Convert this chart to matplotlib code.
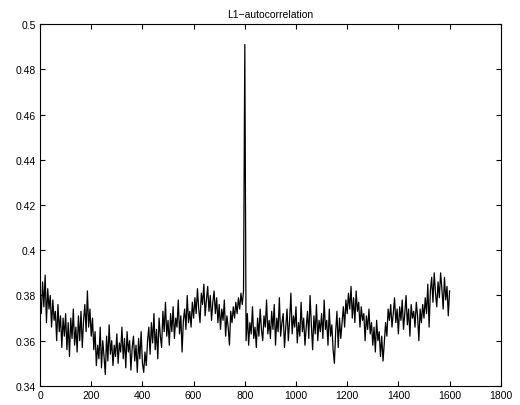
import numpy as np
import matplotlib
matplotlib.use("Agg")
from matplotlib import pyplot as plt

seg_000 = [0.379, 0.372, 0.386, 0.375, 0.389, 0.368, 0.383, 0.374, 0.380, 0.366,
           0.378, 0.369, 0.373, 0.360, 0.376, 0.364, 0.371, 0.357, 0.370, 0.362]
seg_100 = [0.372, 0.356, 0.368, 0.353, 0.370, 0.361, 0.374, 0.358, 0.366, 0.355,
           0.371, 0.360, 0.373, 0.357, 0.369, 0.376, 0.364, 0.382, 0.366, 0.374]
seg_200 = [0.362, 0.370, 0.356, 0.364, 0.349, 0.358, 0.352, 0.366, 0.348, 0.360,
           0.353, 0.345, 0.362, 0.351, 0.367, 0.354, 0.360, 0.349, 0.358, 0.353]
seg_300 = [0.363, 0.350, 0.359, 0.355, 0.366, 0.352, 0.361, 0.348, 0.364, 0.355,
           0.360, 0.347, 0.357, 0.362, 0.351, 0.358, 0.346, 0.361, 0.352, 0.364]
seg_400 = [0.350, 0.346, 0.355, 0.349, 0.360, 0.366, 0.354, 0.368, 0.359, 0.372,
           0.356, 0.365, 0.352, 0.370, 0.362, 0.357, 0.373, 0.364, 0.377, 0.362]
seg_500 = [0.369, 0.358, 0.372, 0.364, 0.375, 0.361, 0.370, 0.366, 0.378, 0.363,
           0.371, 0.355, 0.369, 0.374, 0.365, 0.380, 0.368, 0.373, 0.366, 0.377]
seg_600 = [0.370, 0.379, 0.372, 0.383, 0.374, 0.368, 0.381, 0.376, 0.385, 0.371,
           0.378, 0.384, 0.373, 0.380, 0.369, 0.377, 0.382, 0.372, 0.379, 0.368]
seg_700 = [0.376, 0.365, 0.374, 0.369, 0.378, 0.362, 0.371, 0.366, 0.358, 0.373,
           0.368, 0.375, 0.370, 0.377, 0.372, 0.379, 0.374, 0.381, 0.376, 0.382]
peak_800 = [0.491]
seg_805 = [0.360, 0.372, 0.358, 0.368, 0.363, 0.375, 0.361, 0.366, 0.357, 0.370,
           0.362, 0.374, 0.365, 0.360, 0.371, 0.366, 0.378, 0.363, 0.369]
seg_900 = [0.361, 0.373, 0.365, 0.376, 0.358, 0.370, 0.364, 0.379, 0.362, 0.368,
           0.372, 0.357, 0.366, 0.374, 0.360, 0.369, 0.381, 0.363, 0.371, 0.366]
seg_1000 = [0.375, 0.359, 0.368, 0.362, 0.377, 0.364, 0.370, 0.358, 0.366, 0.373,
            0.361, 0.380, 0.367, 0.356, 0.371, 0.363, 0.376, 0.360, 0.369, 0.364]
seg_1100 = [0.372, 0.361, 0.378, 0.365, 0.369, 0.358, 0.374, 0.362, 0.367, 0.356,
            0.350, 0.364, 0.373, 0.357, 0.370, 0.361, 0.368, 0.375, 0.366, 0.378]
seg_1200 = [0.372, 0.381, 0.374, 0.384, 0.370, 0.379, 0.368, 0.382, 0.373, 0.377,
            0.366, 0.375, 0.369, 0.372, 0.360, 0.371, 0.365, 0.374, 0.363, 0.368]
seg_1300 = [0.358, 0.366, 0.355, 0.369, 0.360, 0.364, 0.353, 0.362, 0.351, 0.359,
            0.368, 0.362, 0.374, 0.369, 0.376, 0.366, 0.372, 0.379, 0.368, 0.374]
seg_1400 = [0.363, 0.375, 0.369, 0.378, 0.365, 0.372, 0.380, 0.367, 0.374, 0.362,
            0.376, 0.370, 0.373, 0.366, 0.377, 0.371, 0.360, 0.374, 0.368, 0.376]
seg_1500 = [0.370, 0.379, 0.372, 0.385, 0.366, 0.382, 0.388, 0.377, 0.390, 0.381,
            0.375, 0.386, 0.379, 0.390, 0.383, 0.374, 0.388, 0.378, 0.384, 0.371,
            0.382]

values = (seg_000 + seg_100 + seg_200 + seg_300 + seg_400 + seg_500 + seg_600
          + seg_700 + peak_800 + seg_805 + seg_900 + seg_1000 + seg_1100
          + seg_1200 + seg_1300 + seg_1400 + seg_1500)
lags = np.arange(len(values)) * 5

x_ticks = np.arange(0, 1801, 200)
y_ticks = [0.34, 0.36, 0.38, 0.4, 0.42, 0.44, 0.46, 0.48, 0.5]
y_tick_labels = ["0.34", "0.36", "0.38", "0.4", "0.42", "0.44", "0.46", "0.48", "0.5"]

plt.rcParams["font.family"] = ["Liberation Sans", "DejaVu Sans"]

fig = plt.figure(figsize=(5.2, 4.06), dpi=100)
ax = fig.add_axes([0.077, 0.047, 0.886, 0.891])
ax.plot(lags, values, color="black", linewidth=0.9)

ax.set_xlim(0, 1800)
ax.set_ylim(0.34, 0.5)
ax.set_xticks(x_ticks)
ax.set_yticks(y_ticks)
ax.set_yticklabels(y_tick_labels)
ax.tick_params(direction="in", length=3.5, width=0.8, labelsize=7.5,
               top=True, right=True, pad=3)
for spine in ax.spines.values():
    spine.set_linewidth(0.8)
ax.set_title("L1\u2212autocorrelation", fontsize=7.5, pad=5)

fig.savefig("out.png", dpi=100)
plt.close(fig)
